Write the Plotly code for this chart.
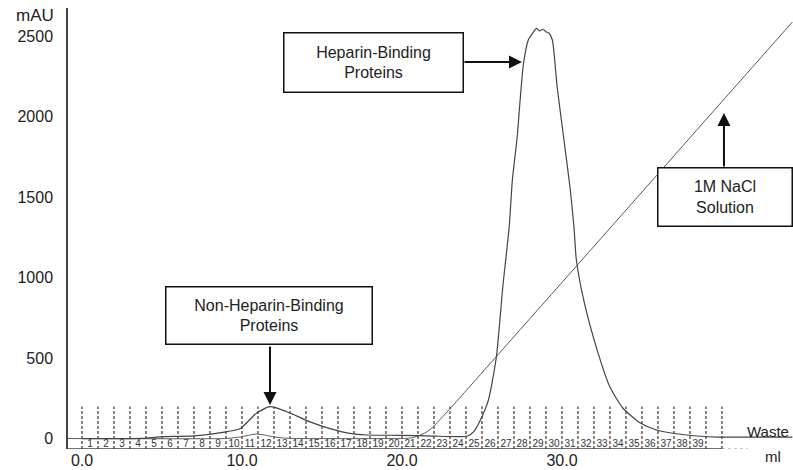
import plotly.graph_objects as go

# ---------------- data ----------------
# UV absorbance trace (mAU) vs elution volume (ml)
uv_ml = [0, 2, 3.8, 4.9, 7.0, 9.0, 9.9, 10.9, 11.75, 12.8, 14.25, 15.5, 16.75, 17.8, 19.9,
         22.0, 23.5, 24.1, 24.5, 24.9, 25.4, 25.9, 26.3, 26.7, 26.9, 27.2, 27.4, 27.6, 27.9,
         28.2, 28.4, 28.6, 28.8, 29.0, 29.2, 29.4, 29.7, 30.1, 30.5, 30.75, 30.9, 31.4, 32.2,
         33.0, 33.8, 34.9, 35.9, 37.8, 39.7, 42.4, 44.4]
uv_mau = [0, 0, 1, 11, 17, 42, 63, 157, 198, 167, 104, 62, 32, 22, 20,
          15, 12, 16, 45, 115, 239, 507, 942, 1315, 1608, 1875, 2124, 2335, 2480,
          2525, 2550, 2535, 2545, 2530, 2520, 2478, 2186, 1875, 1564, 1315, 1110, 843, 550,
          320, 190, 96, 53, 22, 9, 9, 9]

# Salt gradient / conductivity trace
nacl_ml = [-0.875, 9.0, 9.9, 10.5, 10.9, 11.4, 11.9, 12.6, 13.5, 20.0, 20.5, 21.0, 21.5,
           21.9, 22.9, 44.4]
nacl_mau = [0, 0, 10, 22, 28, 22, 12, 3, 0, 0, 3, 15, 38, 68, 174, 2590]

# fraction collector marks
fraction_edges = list(range(0, 41))
fraction_labels = [str(i) for i in range(1, 40)]

y_ticks = [0, 500, 1000, 1500, 2000, 2500]
x_ticks = [0, 10, 20, 30]
x_tick_text = ["0.0", "10.0", "20.0", "30.0"]

FONT = "Liberation Sans, Arial, sans-serif"
X_RANGE = [-0.875, 44.44]
Y_RANGE = [-65, 2677]
MARK_TOP = 200

fig = go.Figure()

# fraction marks (dashed verticals)
fx, fy = [], []
for e in fraction_edges:
    fx += [e, e, None]
    fy += [Y_RANGE[0], MARK_TOP, None]
fig.add_trace(go.Scatter(x=fx, y=fy, mode="lines",
                         line=dict(color="#333333", width=1.2, dash="3px,2px"),
                         hoverinfo="skip", showlegend=False))

# fraction numbers
fig.add_trace(go.Scatter(x=[i + 0.5 for i in range(len(fraction_labels))],
                         y=[-34] * len(fraction_labels), mode="text",
                         text=fraction_labels,
                         textfont=dict(family=FONT, size=10, color="#333333"),
                         hoverinfo="skip", showlegend=False))

# gradient trace
fig.add_trace(go.Scatter(x=nacl_ml, y=nacl_mau, mode="lines",
                         line=dict(color="#5a5a5a", width=1, shape="spline", smoothing=0.3),
                         hoverinfo="skip", showlegend=False))

# UV trace
fig.add_trace(go.Scatter(x=uv_ml, y=uv_mau, mode="lines",
                         line=dict(color="#444444", width=1.2, shape="spline", smoothing=0.6),
                         hoverinfo="skip", showlegend=False))

# bottom axis line (ends at fraction 40) + dotted continuation
fig.add_shape(type="line", xref="x", yref="y", x0=X_RANGE[0], x1=40, y0=Y_RANGE[0], y1=Y_RANGE[0],
              line=dict(color="#444444", width=1.5))
fig.add_shape(type="line", xref="x", yref="y", x0=40, x1=41.6, y0=Y_RANGE[0], y1=Y_RANGE[0],
              line=dict(color="#888888", width=1, dash="dot"))

box_font = dict(family=FONT, size=16, color="#222222")

def box(x, y, text, w, h):
    fig.add_annotation(x=x, y=y, xref="x", yref="y", text=text, showarrow=False,
                       width=w, height=h, bordercolor="#111111", borderwidth=1.5,
                       borderpad=0, bgcolor="white", font=box_font,
                       xanchor="center", yanchor="middle", align="center")

def arrow(x0, y0, x1, y1):
    fig.add_annotation(x=x1, y=y1, ax=x0, ay=y0, xref="x", yref="y", axref="x", ayref="y",
                       text="", showarrow=True, arrowhead=2, arrowsize=1.3,
                       arrowwidth=2, arrowcolor="#111111")

box(18.19, 2341, "Heparin-Binding<br>Proteins", 178, 58)
arrow(23.81, 2341, 27.5, 2341)

box(11.66, 762, "Non-Heparin-Binding<br>Proteins", 205, 56)
arrow(11.75, 581, 11.75, 208)

box(40.16, 1499, "1M NaCl<br>Solution", 133, 57)
arrow(40.125, 1682, 40.125, 2024)

# axis titles / labels
fig.add_annotation(x=-0.045, y=0.983, xref="paper", yref="paper", text="mAU", showarrow=False,
                   font=dict(family=FONT, size=17, color="#222222"), xanchor="center", yanchor="middle")
fig.add_annotation(x=43.2, y=-0.016, xref="x", yref="paper", text="ml", showarrow=False,
                   font=dict(family=FONT, size=15, color="#222222"), xanchor="center", yanchor="middle")
fig.add_annotation(x=42.9, y=45, xref="x", yref="y", text="Waste", showarrow=False,
                   font=dict(family=FONT, size=15, color="#222222"), xanchor="center", yanchor="middle")

fig.update_layout(
    width=793, height=470,
    margin=dict(l=68, r=0, t=8, b=21),
    paper_bgcolor="white", plot_bgcolor="white",
    showlegend=False,
    xaxis=dict(range=X_RANGE, showgrid=False, zeroline=False, showline=False,
               tickvals=x_ticks, ticktext=x_tick_text, ticks="", ticklabelstandoff=0,
               tickfont=dict(family=FONT, size=16, color="#222222")),
    yaxis=dict(range=Y_RANGE, showgrid=False, zeroline=False, showline=True,
               linecolor="#444444", linewidth=1.5,
               tickvals=y_ticks, ticks="", ticklabelstandoff=10,
               tickfont=dict(family=FONT, size=16, color="#222222")),
)

fig.write_html("out.html", config={"displayModeBar": False},
               post_script="document.body.style.margin='0px';document.body.style.overflow='hidden';")
